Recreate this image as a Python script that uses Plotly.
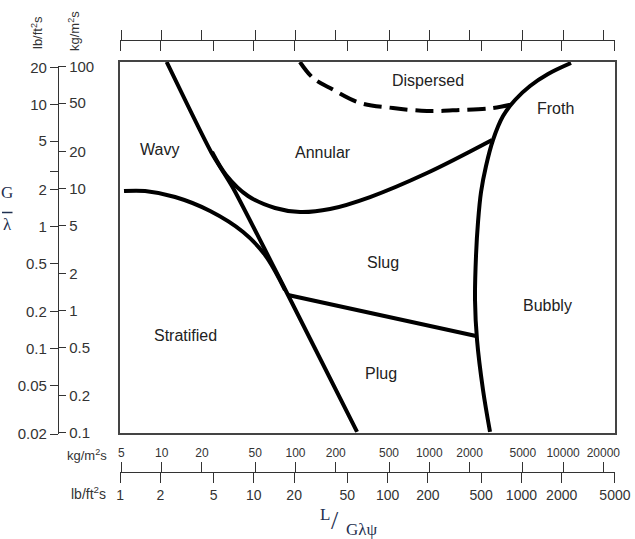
import math
import plotly.graph_objects as go

W, H = 635, 539
KG_TO_LB = 0.2048  # 1 kg/m2s = 0.2048 lb/ft2s

# ---- boundary curves: x = L/(G lambda psi), y = G/lambda  (lb/ft2 s) ----
steep_x = [2.23, 4.79, 6.99, 18.0, 59.1]
steep_y = [22.27, 4.08, 2.07, 0.275, 0.0208]

strat_x = [1.07, 1.538, 2.577, 4.71, 8.31, 12.13, 17.1]
strat_y = [1.955, 1.955, 1.746, 1.341, 0.9025, 0.585, 0.302]

annular_x = [4.87, 6.20, 9.05, 14.40, 22.14, 37.1, 73.9, 197, 603]
annular_y = [4.08, 2.644, 1.779, 1.419, 1.316, 1.393, 1.746, 2.746, 5.12]

plug_x = [18.0, 457.9]
plug_y = [0.275, 0.127]

bubbly_x = [582.6, 516.4, 465.8, 449.9, 457.9, 473.8, 499.0, 543.7, 613, 728.8, 896, 1160, 1581, 2348]
bubbly_y = [0.0208, 0.0459, 0.1177, 0.2503, 0.585, 1.090, 1.919, 3.133, 5.117, 8.04, 10.88, 14.16, 17.76, 21.85]

disp_x = [22.1, 27.7, 37.1, 62.2, 109.7, 197, 347.6, 613, 880.6]
disp_y = [22.27, 16.47, 13.64, 10.28, 9.35, 8.84, 9.01, 9.35, 10.09]

# ---- region labels ----
region_names = ["Dispersed", "Froth", "Wavy", "Annular", "Slug", "Bubbly", "Stratified", "Plug"]
region_x = [200, 1783, 1.957, 32.9, 92.4, 1554, 3.11, 89.3]
region_y = [15.57, 9.18, 4.24, 4.08, 0.5125, 0.2278, 0.127, 0.0632]

# ---- tick labels ----
lb_x_ticks = [1, 2, 5, 10, 20, 50, 100, 200, 500, 1000, 2000, 5000]
kg_x_ticks = [5, 10, 20, 50, 100, 200, 500, 1000, 2000, 5000, 10000, 20000]
lb_y_ticks = [20, 10, 5, 2.8, 2, 1, 0.5, 0.2, 0.1, 0.05, 0.02]
lb_y_text = ["20", "10", "5", "", "2", "1", "0.5", "0.2", "0.1", "0.05", "0.02"]
kg_y_ticks = [100, 50, 20, 10, 5, 2, 1, 0.5, 0.2, 0.1]


def fmt(v):
    return ("%g" % v)


def px(x):
    return x / W


def py(y):
    return 1 - y / H


# main plotting frame
X0, X1 = 120, 615
Y0, Y1 = 62, 432.7
x_range = [-0.0005, math.log10(5000) + 0.0005]
y_range = [math.log10(0.0205), math.log10(22.27)]

fig = go.Figure()

blk = dict(color="black", width=4)
fig.add_trace(go.Scatter(x=steep_x, y=steep_y, mode="lines", line=dict(blk, shape="spline", smoothing=0.6)))
fig.add_trace(go.Scatter(x=strat_x, y=strat_y, mode="lines", line=dict(blk, shape="spline")))
fig.add_trace(go.Scatter(x=annular_x, y=annular_y, mode="lines", line=dict(blk, shape="spline")))
fig.add_trace(go.Scatter(x=plug_x, y=plug_y, mode="lines", line=blk))
fig.add_trace(go.Scatter(x=bubbly_x, y=bubbly_y, mode="lines", line=dict(blk, shape="spline")))
fig.add_trace(go.Scatter(x=disp_x, y=disp_y, mode="lines",
                         line=dict(color="black", width=4, dash="18px,8px", shape="spline")))

# dummy traces to create the auxiliary axes
for xa, ya in [("x2", "y"), ("x3", "y"), ("x4", "y"), ("x5", "y"), ("x6", "y2"), ("x6", "y3")]:
    fig.add_trace(go.Scatter(x=[None], y=[None], xaxis=xa, yaxis=ya, mode="lines"))

for name, xv, yv in zip(region_names, region_x, region_y):
    fig.add_annotation(x=math.log10(xv), y=math.log10(yv), xref="x", yref="y", text=name,
                       xanchor="center", yanchor="middle",
                       showarrow=False, font=dict(family="Liberation Sans, Arial", size=16, color="#222"))

tickfont_c = "#333"
axis_c = "#333"
frame = dict(type="log", showgrid=False, zeroline=False, showticklabels=False, ticks="",
             showline=True, mirror=True, linecolor="#444", linewidth=1.5)

fig.update_layout(
    width=W, height=H, autosize=False, margin=dict(l=0, r=0, t=0, b=0, pad=0, autoexpand=False),
    paper_bgcolor="white", plot_bgcolor="rgba(0,0,0,0)", showlegend=False, hovermode=False,
    xaxis=dict(frame, domain=[px(X0), px(X1)], range=x_range, anchor="y"),
    yaxis=dict(frame, domain=[py(Y1), py(Y0)], range=y_range, anchor="x"),
)

xcommon = dict(type="log", range=x_range, overlaying="x", anchor="free", showgrid=False, zeroline=False,
               ticks="outside", ticklen=10, tickwidth=1.2, tickcolor=axis_c,
               showline=True, linecolor=axis_c, linewidth=1.3, tickmode="array")

bottom_pos = py(472)
top_pos = py(40)
fig.update_layout(
    xaxis2=dict(xcommon, position=bottom_pos, side="bottom", tickvals=lb_x_ticks,
                ticktext=[fmt(v) for v in lb_x_ticks],
                tickfont=dict(family="Liberation Sans, Arial", size=14, color=tickfont_c)),
    xaxis3=dict(xcommon, position=bottom_pos, side="top", tickvals=[v * KG_TO_LB for v in kg_x_ticks],
                ticktext=[fmt(v) for v in kg_x_ticks],
                tickfont=dict(family="Liberation Sans, Arial", size=12, color=tickfont_c)),
    xaxis4=dict(xcommon, position=top_pos, side="bottom", tickvals=lb_x_ticks, showticklabels=False),
    xaxis5=dict(xcommon, position=top_pos, side="top", tickvals=[v * KG_TO_LB for v in kg_x_ticks],
                showticklabels=False),
    xaxis6=dict(type="log", range=x_range, domain=[px(X0), px(X1)], visible=False, anchor="y2"),
)

# left scale: 20 at y=67.7, 0.02 at y=434 (122.1 px per decade)
ly_top, ly_bot = 20.6, 0.0199
ly_top_px = 67.7 - math.log10(ly_top / 20) * 122.1
ly_bot_px = 434 + math.log10(0.02 / ly_bot) * 122.1
ycommon = dict(type="log", range=[math.log10(ly_bot), math.log10(ly_top)], anchor="free",
               position=px(58), showgrid=False, zeroline=False, ticks="outside", tickwidth=1.2,
               tickcolor=axis_c, showline=True, linecolor=axis_c, linewidth=1.3, tickmode="array",
               tickfont=dict(family="Liberation Sans, Arial", size=15, color=tickfont_c))
fig.update_layout(
    yaxis2=dict(ycommon, domain=[py(ly_bot_px), py(ly_top_px)], side="left", ticklen=8,
                tickvals=lb_y_ticks, ticktext=lb_y_text),
    yaxis3=dict(ycommon, overlaying="y2", side="right", ticklen=7,
                tickvals=[v * KG_TO_LB for v in kg_y_ticks], ticktext=[fmt(v) for v in kg_y_ticks]),
)


def paper_text(x, y, text, font, angle=0):
    fig.add_annotation(x=px(x), y=py(y), xref="paper", yref="paper", text=text, showarrow=False,
                       xanchor="center", yanchor="middle", textangle=angle, font=font,
                       borderpad=0)


unit_font = dict(family="Liberation Sans, Arial", size=13, color="#333")
paper_text(87, 455, "kg/m<sup>2</sup>s", unit_font)
paper_text(88, 493, "lb/ft<sup>2</sup>s", dict(unit_font, size=14))
paper_text(37, 33, "lb/ft<sup>2</sup>s", unit_font, -90)
paper_text(74, 31, "kg/m<sup>2</sup>s", unit_font, -90)

# axis titles
lab_c = "#1F3050"
serif = "Liberation Serif, DejaVu Serif, serif"
paper_text(7, 192.5, "G", dict(family=serif, size=17, color=lab_c))
paper_text(7, 224, "λ", dict(family=serif, size=17, color=lab_c))
fig.add_shape(type="line", xref="paper", yref="paper", x0=px(2), x1=px(12.5), y0=py(212.5), y1=py(212.5),
              line=dict(color=lab_c, width=1.5))
paper_text(325, 514, "L", dict(family=serif, size=17, color=lab_c))
paper_text(335, 520, "/", dict(family=serif, size=26, color=lab_c))
paper_text(362, 529, "Gλψ", dict(family=serif, size=17, color=lab_c))

fig.write_html("out.html", config={"responsive": False, "displayModeBar": False},
               post_script="document.body.style.margin='0';document.body.style.padding='0';")
